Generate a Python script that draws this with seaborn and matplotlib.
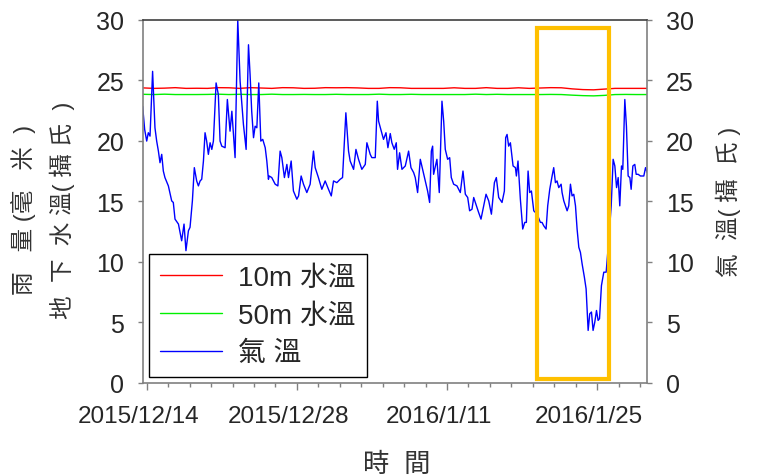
import numpy as np
import pandas as pd
import matplotlib
matplotlib.use("Agg")
import matplotlib.pyplot as plt
import matplotlib.dates as mdates
from matplotlib.patches import Rectangle
from matplotlib.ticker import FuncFormatter
from matplotlib.transforms import ScaledTranslation
import seaborn as sns

# Air temperature (deg C); time as days after 2015/12/14
air_days = [
    -0.38, -0.19, 0.00, 0.15, 0.31, 0.55, 0.77, 0.93, 1.09, 1.24, 1.40, 1.55,
    1.70, 2.02, 2.33, 2.48, 2.64, 2.96, 3.26, 3.48, 3.66, 3.89, 4.04, 4.26,
    4.44, 4.66, 4.82, 4.98, 5.13, 5.29, 5.44, 5.59, 5.75, 5.91, 6.07, 6.22,
    6.47, 6.68, 6.84, 7.00, 7.31, 7.52, 7.77, 7.94, 8.24, 8.49, 8.71, 9.02,
    9.27, 9.49, 9.64, 9.79, 9.96, 10.11, 10.27, 10.45, 10.64, 10.82, 11.05, 11.20,
    11.35, 11.42, 11.66, 11.98, 12.23, 12.44, 12.60, 12.84, 13.07, 13.22, 13.47, 13.68,
    14.00, 14.16, 14.40, 14.62, 14.93, 15.24, 15.55, 15.71, 16.01, 16.33, 16.64, 16.95,
    17.21, 17.42, 17.73, 18.04, 18.26, 18.57, 18.82, 18.97, 19.29, 19.51, 19.75, 20.06,
    20.38, 20.53, 20.84, 20.99, 21.31, 21.50, 21.62, 21.87, 22.08, 22.31, 22.49, 22.71,
    22.86, 23.08, 23.27, 23.39, 23.58, 23.80, 24.11, 24.42, 24.64, 24.89, 25.04, 25.26,
    25.51, 25.76, 25.98, 26.19, 26.38, 26.54, 26.66, 26.75, 27.06, 27.28, 27.53, 27.69,
    27.84, 28.06, 28.25, 28.40, 28.62, 28.93, 29.24, 29.49, 29.71, 29.93, 30.11, 30.33,
    30.49, 30.74, 30.95, 31.17, 31.42, 31.64, 31.89, 32.14, 32.42, 32.60, 32.82, 33.13,
    33.35, 33.47, 33.60, 33.75, 33.91, 34.16, 34.38, 34.47, 34.62, 34.84, 35.06, 35.25,
    35.40, 35.56, 35.71, 35.87, 36.09, 36.40, 36.71, 36.86, 37.02, 37.24, 37.39, 37.58,
    37.80, 37.95, 38.11, 38.26, 38.42, 38.64, 38.73, 38.89, 39.04, 39.20, 39.35, 39.51,
    39.66, 39.82, 39.98, 40.13, 40.29, 40.44, 40.60, 40.81, 40.97, 41.16, 41.31, 41.47,
    41.62, 41.78, 41.94, 42.09, 42.22, 42.40, 42.62, 42.84, 43.09, 43.31, 43.49, 43.65,
    43.81, 43.96, 44.11, 44.27, 44.39, 44.58, 44.73, 44.89, 45.05, 45.17, 45.33, 45.51,
    45.64, 45.82, 46.04, 46.35, 46.51, 46.67,
]
air_temp = [
    22.86, 20.94, 19.98, 20.67, 20.39, 25.75, 21.08, 19.98, 19.15, 18.19, 18.88, 17.50,
    16.96, 16.27, 15.03, 14.90, 13.52, 13.11, 11.73, 13.11, 10.91, 12.56, 12.84, 15.03,
    17.78, 16.68, 16.27, 16.68, 16.82, 18.33, 20.67, 19.98, 18.88, 19.84, 19.29, 19.98,
    24.79, 23.83, 19.98, 19.56, 19.43, 23.42, 20.80, 22.45, 18.61, 30.00, 24.92, 21.35,
    19.29, 27.95, 25.47, 22.45, 20.26, 21.21, 21.08, 24.79, 19.98, 20.12, 19.43, 18.33,
    16.82, 17.09, 16.96, 16.41, 16.27, 19.15, 18.61, 16.96, 18.05, 16.96, 18.33, 15.85,
    15.17, 15.44, 17.09, 16.41, 15.72, 16.41, 19.15, 17.78, 16.96, 15.99, 16.68, 15.99,
    15.44, 16.68, 16.54, 16.82, 16.96, 22.32, 19.15, 18.33, 17.64, 19.29, 18.47, 17.64,
    18.05, 19.84, 18.88, 18.61, 18.61, 23.28, 21.63, 20.80, 20.12, 20.67, 19.43, 20.60,
    19.84, 19.30, 19.84, 17.64, 19.01, 17.64, 17.92, 19.15, 17.78, 17.37, 16.96, 15.72,
    18.47, 17.50, 16.68, 15.85, 14.90, 19.15, 19.56, 17.23, 18.47, 15.72, 23.28, 21.63,
    19.29, 18.47, 18.61, 16.96, 16.41, 16.27, 15.72, 17.50, 15.58, 15.31, 14.21, 14.34,
    15.31, 14.62, 14.07, 13.52, 14.62, 15.58, 15.03, 13.93, 16.54, 16.96, 15.31, 14.90,
    15.85, 20.26, 20.53, 19.56, 19.84, 17.92, 17.78, 17.09, 18.33, 15.17, 12.70, 13.25,
    13.25, 17.50, 15.72, 15.85, 14.21, 13.93, 13.25, 13.25, 12.97, 12.70, 14.62, 15.99,
    17.09, 17.78, 16.54, 16.68, 16.13, 16.41, 15.72, 15.03, 14.62, 14.21, 14.62, 16.41,
    15.44, 15.58, 14.62, 12.70, 11.19, 10.77, 9.81, 8.71, 7.75, 4.31, 5.69, 5.83,
    4.31, 5.00, 5.96, 5.14, 5.28, 8.02, 9.13, 9.13, 11.87, 14.62, 18.47, 17.92,
    16.13, 16.96, 14.62, 17.92, 17.64, 23.42, 21.21, 17.09, 16.96, 15.99, 17.92, 18.05,
    17.23, 17.23, 17.09, 17.09, 17.78, 17.37,
]

# Groundwater temperature at 10 m and 50 m depth, one reading per day
well_first = "2015-12-13 16:00"
temp_10m = [
    24.38, 24.34, 24.36, 24.40, 24.34, 24.35, 24.34, 24.40, 24.39, 24.34, 24.40, 24.37,
    24.34, 24.40, 24.39, 24.34, 24.35, 24.40, 24.39, 24.40, 24.38, 24.34, 24.34, 24.40,
    24.39, 24.34, 24.34, 24.34, 24.34, 24.39, 24.34, 24.34, 24.40, 24.34, 24.34, 24.39,
    24.34, 24.37, 24.40, 24.39, 24.30, 24.24, 24.22, 24.28, 24.34, 24.34, 24.34, 24.34,
]
temp_50m = [
    23.85, 23.83, 23.86, 23.83, 23.83, 23.83, 23.84, 23.86, 23.83, 23.85, 23.83, 23.83,
    23.86, 23.83, 23.83, 23.84, 23.83, 23.83, 23.85, 23.83, 23.83, 23.83, 23.86, 23.83,
    23.83, 23.85, 23.83, 23.83, 23.83, 23.83, 23.83, 23.86, 23.83, 23.85, 23.83, 23.83,
    23.83, 23.83, 23.84, 23.83, 23.78, 23.74, 23.72, 23.76, 23.83, 23.84, 23.83, 23.83,
]

# Highlighted cold spell
box_from, box_to = "2016-01-19 10:20", "2016-01-26 01:30"
box_low, box_high = 0.25, 29.35

tick_dates = ["2015-12-14", "2015-12-28", "2016-01-11", "2016-01-25"]

start = pd.Timestamp("2015-12-14")
air = pd.DataFrame({
    "time": start + pd.to_timedelta(air_days, unit="D"),
    "temp": air_temp,
})
well = pd.DataFrame({
    "time": pd.date_range(well_first, periods=len(temp_10m), freq="D"),
    "t10": temp_10m,
    "t50": temp_50m,
})

sns.set_theme(style="white")
plt.rcParams["font.family"] = ["Liberation Sans", "Noto Sans CJK TC"]

fig = plt.figure(figsize=(7.57, 4.77), dpi=100)
ax = fig.add_axes([0.189, 0.196, 0.666, 0.760])

sns.lineplot(data=well, x="time", y="t10", color="#ff0000", linewidth=1,
             label="10m 水溫", ax=ax)
sns.lineplot(data=well, x="time", y="t50", color="#00f000", linewidth=1,
             label="50m 水溫", ax=ax)
sns.lineplot(data=air, x="time", y="temp", color="#0000ff", linewidth=1,
             label="氣 溫", ax=ax)

x0 = pd.Timestamp(box_from)
x1 = pd.Timestamp(box_to)
ax.add_patch(Rectangle((x0, box_low), x1 - x0, box_high - box_low,
                       fill=False, edgecolor="#ffc000", linewidth=3, zorder=5))

ax.set_xlim(air["time"].iloc[0] + pd.Timedelta(hours=1), air["time"].iloc[-1])
ax.set_ylim(0, 30)
ax.set_yticks(np.arange(0, 31, 5))
ax.set_xticks(pd.to_datetime(tick_dates))
ax.set_xticks(pd.date_range("2015-12-14", "2016-01-29", freq="2D"), minor=True)
ax.xaxis.set_major_formatter(FuncFormatter(
    lambda v, p: "{0.year}/{0.month}/{0.day}".format(mdates.num2date(v))))

ax.tick_params(axis="x", which="major", direction="out", length=5, width=1,
               color="#808080", labelsize=17.5, pad=11, bottom=True)
ax.tick_params(axis="x", which="minor", direction="out", length=3, width=1,
               color="#808080", bottom=True)
ax.tick_params(axis="y", direction="out", length=3.6, width=1, color="#808080",
               labelsize=18, pad=10, left=True)

for side in ["left", "bottom", "right"]:
    ax.spines[side].set_color("#808080")
    ax.spines[side].set_linewidth(1.2)
ax.spines["top"].set_color("#404040")
ax.spines["top"].set_linewidth(1.2)

ax2 = ax.twinx()
ax2.set_ylim(0, 30)
ax2.set_yticks(np.arange(0, 31, 5))
ax2.tick_params(axis="y", direction="out", length=3.6, width=1, color="#808080",
                labelsize=18, pad=10, right=True)
for side in ["left", "bottom", "right", "top"]:
    ax2.spines[side].set_visible(False)

label_kw = dict(fontsize=17, color="#333333", fontweight="light")
ax.set_xlabel("時  間", **{**label_kw, "fontsize": 19})
ax.xaxis.set_label_coords(0.504, -0.19)
ax.set_ylabel("雨   量 (毫   米  )\n地  下  水 溫( 攝 氏  )", linespacing=1.7,
              **label_kw)
ax.yaxis.set_label_coords(-0.135, 0.478)
ax2.set_ylabel("氣  溫( 攝  氏 )", rotation=90, **label_kw)
ax2.yaxis.set_label_coords(1.135, 0.50)

# excel-style date labels sit a little left of their ticks
shift = ScaledTranslation(-0.08, 0, fig.dpi_scale_trans)
for lbl in ax.get_xticklabels():
    lbl.set_transform(lbl.get_transform() + shift)

leg = ax.legend(loc="lower left", bbox_to_anchor=(0.0125, 0.014), borderaxespad=0,
                fontsize=20, frameon=True, fancybox=False, edgecolor="black",
                framealpha=1, handlelength=2.2, handletextpad=0.6,
                labelspacing=0.42, borderpad=0.4)
leg.get_frame().set_linewidth(1.0)

fig.savefig("out.png", dpi=100)
